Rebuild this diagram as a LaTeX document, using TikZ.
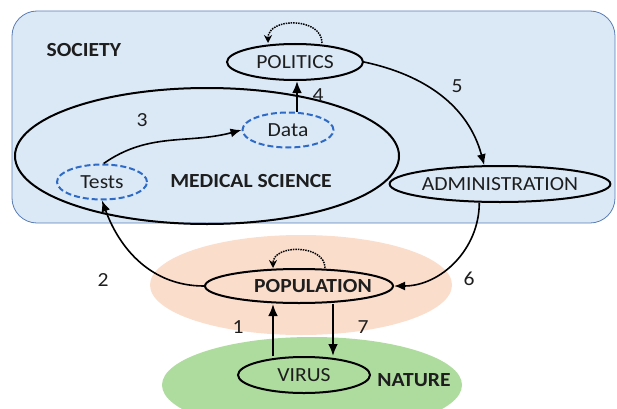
\documentclass[tikz,border=0pt]{standalone}
\usepackage{xcolor}
\usepackage{fontspec}
\setmainfont{Carlito}[FakeStretch=1.08]
\usepackage{tikz}
\usetikzlibrary{shapes.geometric,arrows.meta}

\definecolor{socfill}{HTML}{DBE9F7}
\definecolor{socline}{HTML}{5A7DB4}
\definecolor{popfill}{HTML}{FBDDCB}
\definecolor{natfill}{HTML}{AEDB9E}
\definecolor{dashblue}{HTML}{2E6BC6}
\definecolor{ink}{HTML}{1E1E1E}

\begin{document}
\begin{tikzpicture}[x=1pt,y=1pt,text=ink,
        font=\fontsize{20}{24}\selectfont,
        actor/.style={ellipse,draw=black,line width=2pt,inner sep=0pt},
        sub/.style={ellipse,draw=dashblue,line width=2pt,dash pattern=on 6pt off 3pt,inner sep=0pt},
        area/.style={font=\fontsize{20}{24}\selectfont\bfseries},
        num/.style={inner sep=0pt},
        link/.style={line width=1.6pt,-{Latex[length=11pt,width=9pt]}},
        strong/.style={line width=2.4pt,-{Latex[length=12pt,width=10pt]}},
        self/.style={line width=1.5pt,densely dotted,-{Stealth[length=8pt,width=8pt]}}]
        \useasboundingbox (0,0) rectangle (617,408);
        % areas
        \draw[socline,fill=socfill,line width=0.8pt,rounded corners=25pt] (12,185) rectangle (615,397);
        \fill[popfill] (301,123) ellipse [x radius=151pt, y radius=50pt];
        \fill[natfill] (312,23) ellipse [x radius=150pt, y radius=48pt];
        \node[actor,minimum width=384pt,minimum height=136pt] (medical) at (207,252) {};
        % labels of the areas
        \node[area,anchor=west] (society) at (43,358) {SOCIETY};
        \node[area] (medtext) at (251,227) {MEDICAL SCIENCE};
        \node[area] (nature) at (414,28) {NATURE};
        % actors
        \node[actor,minimum width=136pt,minimum height=36pt] (politics) at (295,346) {POLITICS};
        \node[sub,minimum width=91pt,minimum height=35pt] (data) at (288,278) {Data};
        \node[sub,minimum width=90pt,minimum height=35pt] (tests) at (102,226) {Tests};
        \node[actor,minimum width=220pt,minimum height=36pt] (admin) at (500,224) {ADMINISTRATION};
        \node[actor,minimum width=188pt,minimum height=34pt,inner xsep=-12pt,font=\fontsize{20}{24}\selectfont\bfseries]
            (population) at (299,122) {\hspace*{28pt}POPULATION};
        \node[actor,minimum width=132pt,minimum height=36pt] (virus) at (304,33) {VIRUS};
        % numbers
        \node[num] (n1) at (238,81) {1};
        \node[num] (n2) at (103,128) {2};
        \node[num] (n3) at (142,288) {3};
        \node[num] (n4) at (318,313) {4};
        \node[num] (n5) at (457,322) {5};
        \node[num] (n6) at (469,129) {6};
        \node[num] (n7) at (363,81) {7};
        % links
        \coordinate (c1) at (273,0);
        \coordinate (c4) at (297,0);
        \coordinate (c7) at (333,0);
        \draw[strong] (virus.north -| c1) -- (population.south -| c1);
        \draw[strong] (population.south -| c7) -- (virus.north -| c7);
        \draw[link] (population.west) to[out=180,in=-70] (tests.south);
        \draw[link] (tests.85) to[out=35,in=195] (data.west);
        \draw[strong] (data.north -| c4) -- (politics.south -| c4);
        \draw[link] (politics.east) to[out=-12,in=105] (admin.130);
        \draw[link] (admin.222) to[out=-90,in=0] (population.east);
        % loops
        \draw[self] ([xshift=27pt]politics.north) .. controls +(0,26) and +(0,26) .. ([xshift=-27pt]politics.north);
        \draw[self] ([xshift=26pt]population.north) .. controls +(0,24) and +(0,24) .. ([xshift=-26pt]population.north);
\end{tikzpicture}
\end{document}
